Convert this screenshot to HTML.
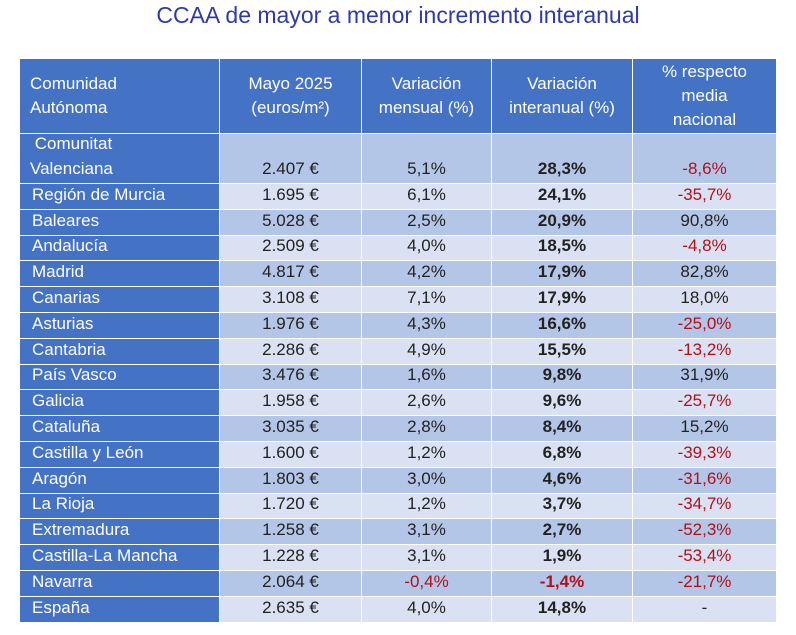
<!DOCTYPE html>
<html><head><meta charset="utf-8">
<style>
body{margin:0;width:796px;height:635px;background:#fff;font-family:"Liberation Sans",sans-serif;position:relative;overflow:hidden}
#title{position:absolute;left:0;top:2px;width:796px;text-align:center;font-size:23px;color:#2f3aa8}
.c{position:absolute;box-sizing:border-box;border-right:1.5px solid #fff;border-bottom:1.5px solid #fff;font-size:17px;color:#222;display:flex;align-items:flex-end;justify-content:center;padding-bottom:2px;line-height:24px}
.h{background:#4472c4;color:#fff;align-items:center;text-align:center}
.n{background:#4472c4;color:#fff;justify-content:flex-start;padding-left:12px}
.red{color:#b0101a}
.b{font-weight:bold}
</style></head><body>
<div id="title">CCAA de mayor a menor incremento interanual</div>
<div id="t"></div>
<script>
const regions=["Comunitat Valenciana","Región de Murcia","Baleares","Andalucía","Madrid","Canarias","Asturias","Cantabria","País Vasco","Galicia","Cataluña","Castilla y León","Aragón","La Rioja","Extremadura","Castilla-La Mancha","Navarra","España"];
const prices=["2.407 €","1.695 €","5.028 €","2.509 €","4.817 €","3.108 €","1.976 €","2.286 €","3.476 €","1.958 €","3.035 €","1.600 €","1.803 €","1.720 €","1.258 €","1.228 €","2.064 €","2.635 €"];
const monthly=["5,1%","6,1%","2,5%","4,0%","4,2%","7,1%","4,3%","4,9%","1,6%","2,6%","2,8%","1,2%","3,0%","1,2%","3,1%","3,1%","-0,4%","4,0%"];
const yearly=["28,3%","24,1%","20,9%","18,5%","17,9%","17,9%","16,6%","15,5%","9,8%","9,6%","8,4%","6,8%","4,6%","3,7%","2,7%","1,9%","-1,4%","14,8%"];
const vsNational=["-8,6%","-35,7%","90,8%","-4,8%","82,8%","18,0%","-25,0%","-13,2%","31,9%","-25,7%","15,2%","-39,3%","-31,6%","-34,7%","-52,3%","-53,4%","-21,7%","-"];
const headers=["Comunidad<br>Autónoma","Mayo 2025<br>(euros/m²)","Variación<br>mensual (%)","Variación<br>interanual (%)","% respecto<br>media<br>nacional"];
const colX=[20,220,362,492,633,777];
const t=document.getElementById('t');
function cell(x0,x1,y0,y1,html,cls,name){
  const d=document.createElement('div');
  d.className='c '+cls;
  d.style.left=x0+'px';d.style.top=y0+'px';d.style.width=(x1-x0)+'px';d.style.height=(y1-y0)+'px';
  d.innerHTML=html;
  
  
  t.appendChild(d);return d;
}
for(let j=0;j<5;j++){
  const d=cell(colX[j],colX[j+1],59,134,headers[j],'h','header-cell');
  if(j==0){d.style.justifyContent='flex-start';d.style.textAlign='left';d.style.paddingLeft='10px';}
  d.style.paddingBottom='0';
}
for(let i=0;i<regions.length;i++){
  const y0=i==0?134:184+(i-1)*25.8, y1=i==0?184:184+i*25.8;
  const bg=i%2==0?'#b4c6e7':'#d9e1f2';
  const n=cell(colX[0],colX[1],y0,y1,i==0?'&nbsp;Comunitat<br>Valenciana':regions[i],'n','region-name');
  if(i==0){n.style.paddingLeft='10px';n.style.lineHeight='25px';}
  const vals=[prices[i],monthly[i],yearly[i],vsNational[i]];
  for(let j=0;j<4;j++){
    let cls='';
    if(j==2)cls+=' b';
    if(j>0&&vals[j].startsWith('-')&&vals[j]!='-')cls+=' red';
    const d=cell(colX[j+1],colX[j+2],y0,y1,vals[j],cls,'value-cell');
    d.style.background=bg;
  }
}
</script>
</body></html>
